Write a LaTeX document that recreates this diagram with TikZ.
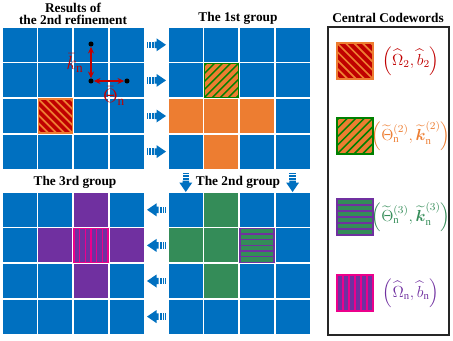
\documentclass[tikz,border=0pt]{standalone}
\usepackage{amsmath,amssymb}
\usepackage{fontspec}
\setmainfont{Liberation Serif}
\usetikzlibrary{arrows.meta, positioning, calc}

\definecolor{cblue}{RGB}{0,112,192}
\definecolor{corange}{RGB}{237,125,49}
\definecolor{cgreen}{RGB}{52,140,88}
\definecolor{cpurple}{RGB}{112,48,160}
\definecolor{cred}{RGB}{192,0,0}
\definecolor{cdkgreen}{RGB}{0,128,0}

% top-left corner of cell (i,j) in the grid starting at (gx,gy)
\newcommand{\cellxy}[4]{({#1+#3*35.6+0.8},{#2+#4*35.6+0.8})}

\tikzset{
  codeA/.pic={
    \fill[cred] (0,0) rectangle (34,34);
    \begin{scope}
      \clip (0,0) rectangle (34,34);
      \foreach \t in {-40,-32,...,40} \draw[corange, line width=1.3pt] (\t,0) -- (\t+34,34);
    \end{scope}
    \draw[corange, line width=1.2pt] (0,0) rectangle (34,34);
  },
  codeB/.pic={
    \fill[corange] (0,0) rectangle (34,34);
    \begin{scope}
      \clip (0,0) rectangle (34,34);
      \foreach \t in {-40,-32,...,40} \draw[cdkgreen, line width=1.1pt] (\t,34) -- (\t+34,0);
    \end{scope}
    \draw[cdkgreen, line width=1.3pt] (0,0) rectangle (34,34);
  },
  codeC/.pic={
    \fill[cgreen] (0,0) rectangle (34,34);
    \foreach \k in {1,...,5} \draw[cpurple, line width=1.1pt] (0,\k*34/6) -- (34,\k*34/6);
    \draw[cpurple, line width=1.3pt] (0,0) rectangle (34,34);
  },
  codeD/.pic={
    \fill[cpurple] (0,0) rectangle (34,34);
    \foreach \k in {1,...,5} \draw[magenta, line width=1.1pt] (\k*34/6,0) -- (\k*34/6,34);
    \draw[magenta, line width=1.3pt] (0,0) rectangle (34,34);
  },
  barrow/.pic={
    \foreach \a/\b in {0/1,2/3.5,4.5/6.5} \fill[cblue] (\a,-3.2) rectangle (\b,3.2);
    \fill[cblue] (7.5,-3.2) -- (9.5,-3.2) -- (9.5,-6.5) -- (19,0) -- (9.5,6.5) -- (9.5,3.2) -- (7.5,3.2) -- cycle;
  }
}

\begin{document}
\begin{tikzpicture}[x=0.75pt, y=-0.75pt,
    title/.style={font=\bfseries\fontsize{10}{8.5}\selectfont, align=center, inner sep=0pt},
    lab/.style={font=\large, inner sep=0pt},
    dot/.style={circle, fill=black, inner sep=0pt, minimum size=3.8pt},
    vec/.style={{Stealth[length=5pt,width=4.5pt]}-{Stealth[length=5pt,width=4.5pt]}, line width=1.1pt, cred},
    legbox/.style={draw=black!85, line width=1pt}]
    \useasboundingbox (0,0) rectangle (453,340);

    % four blue grids
    \foreach \gx/\gy in {2/27,168/27,168/192,2/192}
      \foreach \i in {0,...,3}
        \foreach \j in {0,...,3}
          \fill[cblue] \cellxy{\gx}{\gy}{\i}{\j} rectangle ++(34,34);

    % results of the 2nd refinement
    \pic at \cellxy{2}{27}{1}{2} {codeA};
    \node[dot] (pk) at (91,44) {};
    \node[dot] (po) at (91,81) {};
    \node[dot] (pt) at (127,81) {};
    \draw[vec] (pk) -- (po);
    \draw[vec] (po) -- (pt);
    \node[cred, font=\Large, inner sep=0pt] (lk) at (75,63) {$\bar{k}_{\mathrm{n}}$};
    \node[cred, font=\Large, inner sep=0pt] (lt) at (114,96) {$\bar{\Theta}_{\mathrm{n}}$};

    % the 1st group
    \foreach \i/\j in {0/2,1/2,2/2,1/3}
      \fill[corange] \cellxy{168}{27}{\i}{\j} rectangle ++(34,34);
    \pic at \cellxy{168}{27}{1}{1} {codeB};

    % the 2nd group
    \foreach \i/\j in {1/0,0/1,1/1,1/2}
      \fill[cgreen] \cellxy{168}{192}{\i}{\j} rectangle ++(34,34);
    \pic at \cellxy{168}{192}{2}{1} {codeC};

    % the 3rd group
    \foreach \i/\j in {2/0,1/1,3/1,2/2}
      \fill[cpurple] \cellxy{2}{192}{\i}{\j} rectangle ++(34,34);
    \pic at \cellxy{2}{192}{2}{1} {codeD};

    % block arrows
    \foreach \r in {0,...,3} {
      \pic at (147,{44.8+\r*35.6}) {barrow};
      \pic[rotate=180] at (166,{209.8+\r*35.6}) {barrow};
    }
    \pic[rotate=-90] at (185.8,173) {barrow};
    \pic[rotate=-90] at (292.6,173) {barrow};

    % titles
    \node[title] (tres) at (73,14) {Results of\\the 2nd refinement};
    \node[title, anchor=base] (tg1) at (238,21.5) {The 1st group};
    \node[title, anchor=base] (tg2) at (238,185.5) {The 2nd group};
    \node[title, anchor=base] (tg3) at (75,185.5) {The 3rd group};
    \node[title, anchor=base] (tcw) at (388,22) {Central Codewords};

    % legend
    \draw[legbox] (328,27) rectangle (449,335);
    \pic[scale=1.06] at (337,43) {codeA};
    \pic[scale=1.06] at (337,118) {codeB};
    \pic[scale=1.06] at (337,199) {codeC};
    \pic[scale=1.06] at (337,275) {codeD};
    \node[lab, text=cred] (lA) at (411,61) {$\left(\widehat{\Omega}_2,\widehat{b}_2\right)$};
    \node[lab, text=corange] (lB) at (411,136) {$\left(\widetilde{\Theta}_{\mathrm{n}}^{(2)},\widetilde{\boldsymbol{k}}_{\mathrm{n}}^{(2)}\right)$};
    \node[lab, text=cgreen] (lC) at (411,217) {$\left(\widetilde{\Theta}_{\mathrm{n}}^{(3)},\widetilde{\boldsymbol{k}}_{\mathrm{n}}^{(3)}\right)$};
    \node[lab, text=cpurple] (lD) at (411,293) {$\left(\widehat{\Omega}_{\mathrm{n}},\widehat{b}_{\mathrm{n}}\right)$};
\end{tikzpicture}
\end{document}
